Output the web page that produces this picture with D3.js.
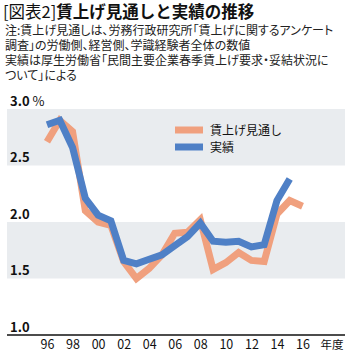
<!DOCTYPE html>
<html lang="ja">
<head>
  <meta charset="UTF-8">
  <title>賃上げ見通しと実績の推移</title>
  <script src="https://d3js.org/d3.v7.min.js"></script>
  <style>
    body { margin: 0; background: #fff; }
    text { font-family: "Noto Sans CJK JP", "Noto Sans", sans-serif; }
    .note { font-feature-settings: "palt"; }
  </style>
</head>
<body>
<div id="chart"></div>
<script>
// data
const years = d3.range(1996, 2017);
const forecast = [2.71, 2.90, 2.80, 2.10, 2.00, 1.97, 1.65, 1.50, 1.59, 1.71, 1.90, 1.91, 2.02,
                  1.58, 1.64, 1.73, 1.66, 1.65, 2.07, 2.19, 2.14];
const actual = [2.86, 2.90, 2.66, 2.21, 2.06, 2.01, 1.66, 1.63, 1.67, 1.71, 1.79, 1.87, 1.99,
                1.83, 1.82, 1.83, 1.78, 1.80, 2.19, 2.38];
const xTicks = [1996, 1998, 2000, 2002, 2004, 2006, 2008, 2010, 2012, 2014, 2016];
const yTicks = [1.0, 1.5, 2.0, 2.5, 3.0];
const bands = [[2.5, 3.0], [1.5, 2.0]];
const seriesNames = ["賃上げ見通し", "実績"];
const noteLines = [
  "注:賃上げ見通しは、労務行政研究所「賃上げに関するアンケート",
  "調査」の労働側、経営側、学識経験者全体の数値",
  "実績は厚生労働省「民間主要企業春季賃上げ要求・妥結状況に",
  "ついて」による"
];

const W = 352, H = 361;
const left = 7, right = 345;
const orange = "#f0a07e", blue = "#4f80c6";

const svg = d3.select("#chart").append("svg")
  .attr("width", W)
  .attr("height", H);

// title
const title = svg.append("text")
  .attr("x", 3)
  .attr("y", 18)
  .attr("font-size", 16.5)
  .attr("fill", "#111");
title.append("tspan").text("[図表2]");
title.append("tspan").attr("font-weight", "bold").text("賃上げ見通しと実績の推移");

svg.selectAll(".note")
  .data(noteLines)
  .enter()
  .append("text")
    .attr("class", "note")
    .attr("x", 5)
    .attr("y", (d, i) => 35 + i * 15)
    .attr("font-size", 12)
    .attr("fill", "#222")
    .text(d => d);

const x = d3.scaleLinear().domain([1996, 2016]).range([47, 302.5]);
const y = d3.scaleLinear().domain([1, 3]).range([335, 109]);

// grey bands
svg.selectAll(".band")
  .data(bands)
  .enter()
  .append("rect")
    .attr("x", left)
    .attr("width", right - left)
    .attr("y", d => y(d[1]))
    .attr("height", d => y(d[0]) - y(d[1]))
    .attr("fill", "#e9ecef");

// y labels above their lines
const yAxis = d3.axisRight(y)
  .tickValues(yTicks)
  .tickSize(0)
  .tickFormat(d => d3.format(".1f")(d));
const yAxisGroup = svg.append("g")
  .attr("transform", `translate(${left}, 0)`)
  .call(yAxis);
yAxisGroup.select(".domain").remove();
yAxisGroup.selectAll("text")
  .attr("x", 3)
  .attr("dy", "-0.3em")
  .attr("font-family", "'Open Sans', 'Noto Sans', sans-serif")
  .attr("font-size", 13)
  .attr("font-weight", "bold")
  .attr("fill", "#111");
yAxisGroup.selectAll(".tick")
  .filter(d => d === 3)
  .select("text")
  .append("tspan")
    .attr("font-weight", "normal")
    .text(" %");

// x axis
const xAxis = d3.axisBottom(x)
  .tickValues(xTicks)
  .tickSize(0)
  .tickFormat(d => String(d).slice(2));
const xAxisGroup = svg.append("g")
  .attr("transform", `translate(0, ${y(1)})`)
  .call(xAxis);
xAxisGroup.select(".domain").remove();
xAxisGroup.selectAll("text")
  .attr("y", 5)
  .attr("font-family", "'Open Sans', 'Noto Sans', sans-serif")
  .attr("font-size", 12.5)
  .attr("fill", "#111");

svg.append("line")
  .attr("x1", left)
  .attr("x2", right)
  .attr("y1", y(1))
  .attr("y2", y(1))
  .attr("stroke", "#111")
  .attr("stroke-width", 1.5);

svg.append("text")
  .attr("x", 332)
  .attr("y", 349)
  .attr("text-anchor", "middle")
  .attr("font-size", 11.5)
  .attr("fill", "#111")
  .text("年度");

// lines
const line = d3.line()
  .x((d, i) => x(years[i]))
  .y(d => y(d));

svg.append("path")
  .datum(forecast)
  .attr("d", line)
  .attr("fill", "none")
  .attr("stroke", orange)
  .attr("stroke-width", 7);

svg.append("path")
  .datum(actual)
  .attr("d", line)
  .attr("fill", "none")
  .attr("stroke", blue)
  .attr("stroke-width", 7);

// legend
const legend = svg.selectAll(".legend")
  .data(seriesNames)
  .enter()
  .append("g")
    .attr("class", "legend")
    .attr("transform", (d, i) => `translate(175, ${130 + i * 17})`);
legend.append("line")
  .attr("x1", 0)
  .attr("x2", 28)
  .attr("stroke", (d, i) => i === 0 ? orange : blue)
  .attr("stroke-width", 7);
legend.append("text")
  .attr("x", 35)
  .attr("y", 4.5)
  .attr("font-size", 12)
  .attr("fill", "#111")
  .text(d => d);
</script>
</body>
</html>
